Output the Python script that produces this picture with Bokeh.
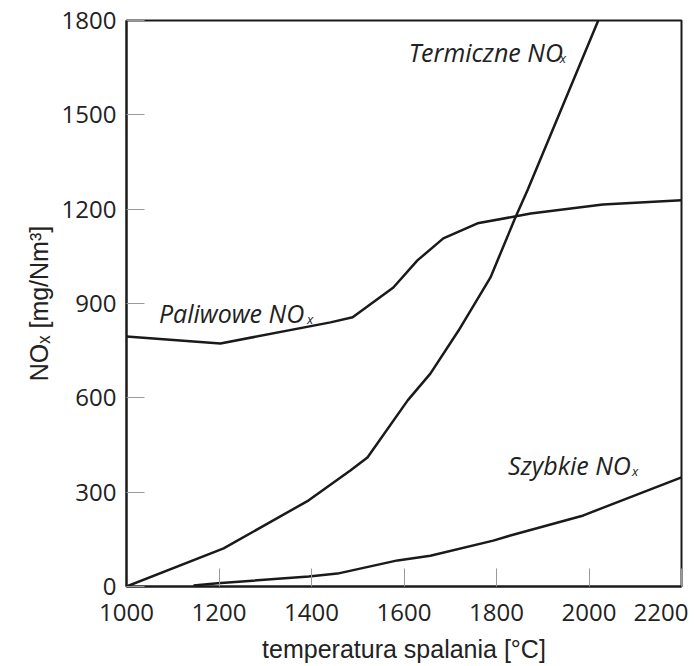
from bokeh.plotting import figure
from bokeh.models import Range1d, FixedTicker, Label
from bokeh.embed import file_html
from bokeh.resources import INLINE

# Data
termiczne_t = [1000, 1210, 1394, 1484, 1521, 1608, 1657, 1718, 1787, 1841, 1867, 2020]
termiczne_v = [0, 121, 274, 369, 410, 592, 677, 814, 983, 1174, 1260, 1800]

paliwowe_t = [1000, 1203, 1441, 1489, 1577, 1629, 1685, 1759, 1874, 2030, 2200]
paliwowe_v = [795, 773, 840, 856, 951, 1037, 1107, 1155, 1186, 1215, 1228]

szybkie_t = [1145, 1197, 1394, 1456, 1586, 1657, 1793, 1830, 1988, 2031, 2200]
szybkie_v = [3, 10, 32, 41, 83, 98, 146, 162, 226, 251, 347]

x_ticks = [1000, 1200, 1400, 1600, 1800, 2000, 2200]
y_ticks = [0, 300, 600, 900, 1200, 1500, 1800]

p = figure(width=688, height=666, output_backend="svg", toolbar_location=None,
           x_range=Range1d(1000, 2200), y_range=Range1d(0, 1800),
           min_border_left=126, min_border_right=7, min_border_top=20, min_border_bottom=80)
p.xgrid.visible = False
p.ygrid.visible = False
p.outline_line_color = "#1a1a1a"
p.outline_line_width = 2
p.background_fill_color = "white"
p.border_fill_color = "white"

for ax in (p.xaxis[0], p.yaxis[0]):
    ax.axis_line_color = "#1a1a1a"
    ax.axis_line_width = 2
    ax.major_tick_in = 18
    ax.major_tick_out = 0
    ax.major_tick_line_color = "#999999"
    ax.major_tick_line_width = 1
    ax.minor_tick_line_color = None
    ax.major_label_text_font = "Open Sans"
    ax.major_label_text_font_size = "24px"
    ax.major_label_text_color = "#222222"
    ax.axis_label_text_font = "Liberation Sans"
    ax.axis_label_text_font_size = "25px"
    ax.axis_label_text_font_style = "normal"
    ax.axis_label_text_color = "#222222"

p.xaxis.ticker = FixedTicker(ticks=x_ticks)
p.yaxis.ticker = FixedTicker(ticks=y_ticks)
p.xaxis.major_label_standoff = 17
p.yaxis.major_label_standoff = 10
p.xaxis.axis_label = "temperatura spalania [°C]"
p.yaxis.axis_label = "NOₓ [mg/Nm³]"
p.xaxis.axis_label_standoff = 11
p.yaxis.axis_label_standoff = 6

lc = "#1a1a1a"
p.line(termiczne_t, termiczne_v, line_color=lc, line_width=2.5)
p.line(paliwowe_t, paliwowe_v, line_color=lc, line_width=2.5)
p.line(szybkie_t, szybkie_v, line_color=lc, line_width=2.5)

def add_label(x, y, txt, sub_dx):
    p.add_layout(Label(x=x, y=y, text=txt, text_font="Open Sans", text_font_style="italic",
                       text_font_size="25px", text_color="#222222", text_align="left",
                       text_baseline="alphabetic"))
    p.add_layout(Label(x=x, y=y, x_offset=sub_dx, y_offset=-6, text="x", text_font="Open Sans",
                       text_font_style="italic", text_font_size="13px", text_color="#222222",
                       text_align="left", text_baseline="alphabetic"))

add_label(1610, 1700, "Termiczne NO", 151)
add_label(1070, 870, "Paliwowe NO", 148)
add_label(1825, 385, "Szybkie NO", 124)

open("out.html", "w").write(file_html(p, INLINE))
